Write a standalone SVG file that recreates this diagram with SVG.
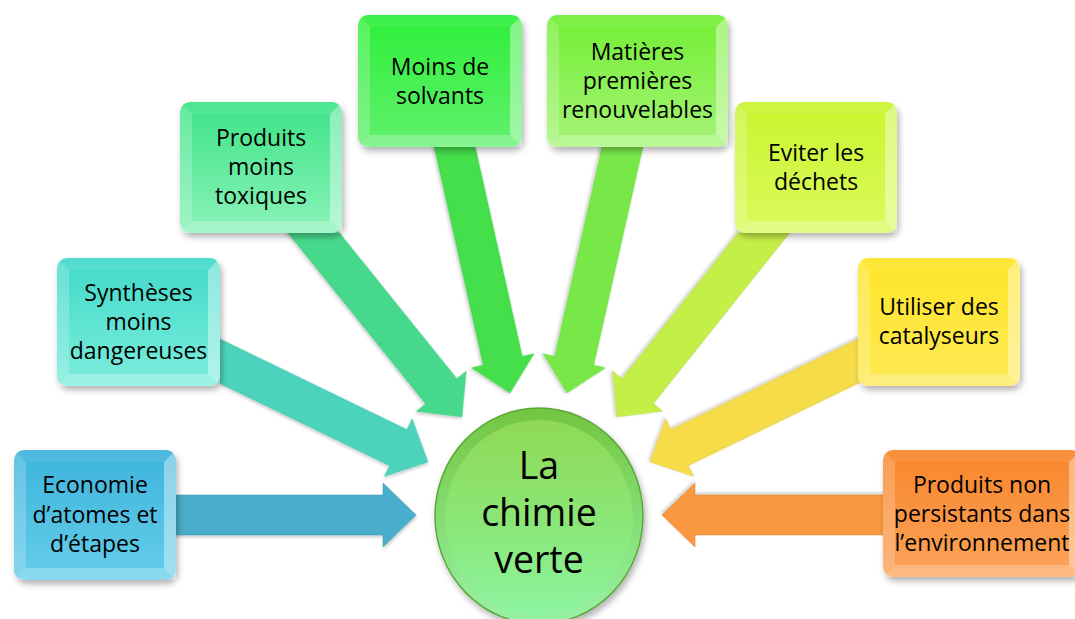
<svg xmlns="http://www.w3.org/2000/svg" width="1075" height="619" viewBox="0 0 1075 619">
<style>
.t{font-family:"Open Sans","Liberation Sans",sans-serif;font-size:23px;fill:#000;text-anchor:middle}
.c{font-family:"Open Sans","Liberation Sans",sans-serif;font-size:37.5px;fill:#000;text-anchor:middle}
.box{filter:url(#sh)}
.bt{fill:#fff;fill-opacity:0.08}
.bl{fill:#fff;fill-opacity:0.2}
.br{fill:#fff;fill-opacity:0.4}
.bb{fill:#fff;fill-opacity:0.25}
.arr{stroke-width:1;stroke-opacity:0.5}
</style>
<defs>
<filter id="sh" x="-10%" y="-10%" width="130%" height="130%">
<feDropShadow dx="2" dy="4" stdDeviation="3" flood-color="#000" flood-opacity="0.3"/>
</filter>
<filter id="ash" x="-10%" y="-10%" width="130%" height="130%">
<feDropShadow dx="1" dy="2" stdDeviation="1.5" flood-color="#000" flood-opacity="0.2"/>
</filter>
<linearGradient id="gEco" x1="0" y1="0" x2="0" y2="1"><stop offset="0" stop-color="#3db4dc"/><stop offset="1" stop-color="#66cdea"/></linearGradient>
<linearGradient id="gSyn" x1="0" y1="0" x2="0" y2="1"><stop offset="0" stop-color="#42dac9"/><stop offset="1" stop-color="#7cecdc"/></linearGradient>
<linearGradient id="gTox" x1="0" y1="0" x2="0" y2="1"><stop offset="0" stop-color="#3de488"/><stop offset="1" stop-color="#8af2b8"/></linearGradient>
<linearGradient id="gSol" x1="0" y1="0" x2="0" y2="1"><stop offset="0" stop-color="#2def38"/><stop offset="1" stop-color="#62f06e"/></linearGradient>
<linearGradient id="gMat" x1="0" y1="0" x2="0" y2="1"><stop offset="0" stop-color="#72ee34"/><stop offset="1" stop-color="#a6f476"/></linearGradient>
<linearGradient id="gEvi" x1="0" y1="0" x2="0" y2="1"><stop offset="0" stop-color="#c8f52e"/><stop offset="1" stop-color="#dcfa5c"/></linearGradient>
<linearGradient id="gUti" x1="0" y1="0" x2="0" y2="1"><stop offset="0" stop-color="#ffe528"/><stop offset="1" stop-color="#fde955"/></linearGradient>
<linearGradient id="gNon" x1="0" y1="0" x2="0" y2="1"><stop offset="0" stop-color="#f8862a"/><stop offset="1" stop-color="#fca35a"/></linearGradient>
<linearGradient id="gRim" x1="0" y1="0" x2="0" y2="1"><stop offset="0" stop-color="#72c640"/><stop offset="1" stop-color="#98f2a6"/></linearGradient>
<linearGradient id="gFace" x1="0" y1="0" x2="0" y2="1"><stop offset="0" stop-color="#8fd955"/><stop offset="0.6" stop-color="#8ae87c"/><stop offset="1" stop-color="#8ef4a2"/></linearGradient>
</defs>

<g id="connectors">
<polygon class="arr" fill="#4aaecb" stroke="#3a97b3" filter="url(#ash)" points="-320,-20 -33,-20 -33,-32 0,0 -33,32 -33,20 -320,20" transform="translate(416,515) rotate(0)"/>
<polygon class="arr" fill="#4bd3bb" stroke="#3bb8a2" filter="url(#ash)" points="-320,-20 -33,-20 -33,-32 0,0 -33,32 -33,20 -320,20" transform="translate(428,462) rotate(25.85)"/>
<polygon class="arr" fill="#47d98b" stroke="#38bf76" filter="url(#ash)" points="-320,-20 -33,-20 -33,-32 0,0 -33,32 -33,20 -320,20" transform="translate(462,417) rotate(51.15)"/>
<polygon class="arr" fill="#44df4c" stroke="#35c43d" filter="url(#ash)" points="-320,-20 -33,-20 -33,-32 0,0 -33,32 -33,20 -320,20" transform="translate(510,393) rotate(77.35)"/>
<polygon class="arr" fill="#78e84a" stroke="#63cf38" filter="url(#ash)" points="-320,-20 -33,-20 -33,-32 0,0 -33,32 -33,20 -320,20" transform="translate(567,393) rotate(102.7)"/>
<polygon class="arr" fill="#c4ef46" stroke="#aad538" filter="url(#ash)" points="-320,-20 -33,-20 -33,-32 0,0 -33,32 -33,20 -320,20" transform="translate(617,417) rotate(128.6)"/>
<polygon class="arr" fill="#f6dc4a" stroke="#dcc23a" filter="url(#ash)" points="-320,-20 -33,-20 -33,-32 0,0 -33,32 -33,20 -320,20" transform="translate(650,462) rotate(154.15)"/>
<polygon class="arr" fill="#f9983f" stroke="#e08230" filter="url(#ash)" points="-320,-20 -33,-20 -33,-32 0,0 -33,32 -33,20 -320,20" transform="translate(662,515) rotate(180)"/>
</g>

<g id="economie" transform="translate(14,450)">
<rect class="box" width="162" height="130" rx="10" fill="url(#gEco)"/>
<polygon class="bt" points="0,0 162,0 150,12 12,12"/>
<polygon class="bl" points="0,0 12,12 12,118 0,130"/>
<polygon class="br" points="162,0 162,130 150,118 150,12"/>
<polygon class="bb" points="0,130 12,118 150,118 162,130"/>
<text class="t" x="81" y="43">Economie<tspan x="81" dy="29.5">d’atomes et</tspan><tspan x="81" dy="29.5">d’étapes</tspan></text>
</g>

<g id="syntheses" transform="translate(57,258)">
<rect class="box" width="163" height="128" rx="10" fill="url(#gSyn)"/>
<polygon class="bt" points="0,0 163,0 151,12 12,12"/>
<polygon class="bl" points="0,0 12,12 12,116 0,128"/>
<polygon class="br" points="163,0 163,128 151,116 151,12"/>
<polygon class="bb" points="0,128 12,116 151,116 163,128"/>
<text class="t" x="81.5" y="43">Synthèses<tspan x="81.5" dy="29">moins</tspan><tspan x="81.5" dy="29">dangereuses</tspan></text>
</g>

<g id="toxiques" transform="translate(180,102)">
<rect class="box" width="162" height="131" rx="10" fill="url(#gTox)"/>
<polygon class="bt" points="0,0 162,0 150,12 12,12"/>
<polygon class="bl" points="0,0 12,12 12,119 0,131"/>
<polygon class="br" points="162,0 162,131 150,119 150,12"/>
<polygon class="bb" points="0,131 12,119 150,119 162,131"/>
<text class="t" x="81" y="44">Produits<tspan x="81" dy="29">moins</tspan><tspan x="81" dy="29">toxiques</tspan></text>
</g>

<g id="solvants" transform="translate(358,15)">
<rect class="box" width="164" height="132" rx="10" fill="url(#gSol)"/>
<polygon class="bt" points="0,0 164,0 152,12 12,12"/>
<polygon class="bl" points="0,0 12,12 12,120 0,132"/>
<polygon class="br" points="164,0 164,132 152,120 152,12"/>
<polygon class="bb" points="0,132 12,120 152,120 164,132"/>
<text class="t" x="82" y="60">Moins de<tspan x="82" dy="29">solvants</tspan></text>
</g>

<g id="matieres" transform="translate(547,15)">
<rect class="box" width="181" height="132" rx="10" fill="url(#gMat)"/>
<polygon class="bt" points="0,0 181,0 169,12 12,12"/>
<polygon class="bl" points="0,0 12,12 12,120 0,132"/>
<polygon class="br" points="181,0 181,132 169,120 169,12"/>
<polygon class="bb" points="0,132 12,120 169,120 181,132"/>
<text class="t" x="90.5" y="45">Matières<tspan x="90.5" dy="29">premières</tspan><tspan x="90.5" dy="29">renouvelables</tspan></text>
</g>

<g id="dechets" transform="translate(735,102)">
<rect class="box" width="162" height="131" rx="10" fill="url(#gEvi)"/>
<polygon class="bt" points="0,0 162,0 150,12 12,12"/>
<polygon class="bl" points="0,0 12,12 12,119 0,131"/>
<polygon class="br" points="162,0 162,131 150,119 150,12"/>
<polygon class="bb" points="0,131 12,119 150,119 162,131"/>
<text class="t" x="81" y="59">Eviter les<tspan x="81" dy="29">déchets</tspan></text>
</g>

<g id="catalyseurs" transform="translate(858,258)">
<rect class="box" width="162" height="128" rx="10" fill="url(#gUti)"/>
<polygon class="bt" points="0,0 162,0 150,12 12,12"/>
<polygon class="bl" points="0,0 12,12 12,116 0,128"/>
<polygon class="br" points="162,0 162,128 150,116 150,12"/>
<polygon class="bb" points="0,128 12,116 150,116 162,128"/>
<text class="t" x="81" y="57">Utiliser des<tspan x="81" dy="29">catalyseurs</tspan></text>
</g>

<g id="persistants" transform="translate(883,450)">
<rect class="box" width="198" height="127" rx="10" fill="url(#gNon)"/>
<polygon class="bt" points="0,0 198,0 186,12 12,12"/>
<polygon class="bl" points="0,0 12,12 12,115 0,127"/>
<polygon class="br" points="198,0 198,127 186,115 186,12"/>
<polygon class="bb" points="0,127 12,115 186,115 198,127"/>
<text class="t" x="99" y="43">Produits non<tspan x="99" dy="29">persistants dans</tspan><tspan x="99" dy="29">l’environnement</tspan></text>
</g>

<g id="chimie-verte">
<ellipse cx="539" cy="516" rx="104" ry="108" fill="url(#gRim)" stroke="#5aa838" stroke-width="1.5" filter="url(#sh)"/>
<ellipse cx="539" cy="518" rx="94" ry="98" fill="url(#gFace)"/>
<text class="c" x="539" y="479">La<tspan x="539" dy="47">chimie</tspan><tspan x="539" dy="47">verte</tspan></text>
</g>
</svg>
